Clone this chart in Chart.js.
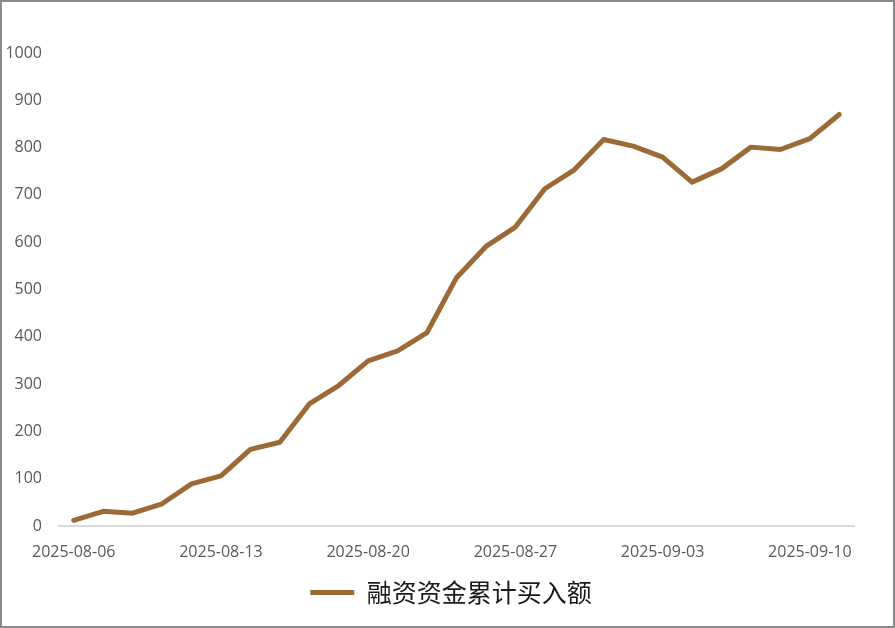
<!DOCTYPE html>
<html>
    <head>
        <meta charset="UTF-8">
        <title>融资资金累计买入额</title>
        <script src="https://cdn.jsdelivr.net/npm/chart.js"></script>
        <style>
            body { margin: 0; background: #fff; }
            .box { width: 895px; height: 628px; box-sizing: border-box; border: 2px solid #8a8a8a; }
            canvas { display: block; }
        </style>
    </head>
    <body>
        <div class="box">
            <canvas id="chart" width="891" height="624"></canvas>
        </div>
        <script>
        // 交易日
        const dates = [
            '2025-08-06', '2025-08-07', '2025-08-08', '2025-08-11', '2025-08-12',
            '2025-08-13', '2025-08-14', '2025-08-15', '2025-08-18', '2025-08-19',
            '2025-08-20', '2025-08-21', '2025-08-22', '2025-08-25', '2025-08-26',
            '2025-08-27', '2025-08-28', '2025-08-29', '2025-09-01', '2025-09-02',
            '2025-09-03', '2025-09-04', '2025-09-05', '2025-09-08', '2025-09-09',
            '2025-09-10', '2025-09-11'
        ];
        // 融资资金累计买入额
        const cumBuy = [
            12, 31, 27, 47, 89, 106, 162, 177, 258, 297,
            349, 370, 409, 525, 591, 632, 713, 753, 817, 803,
            780, 727, 755, 801, 796, 819, 870
        ];
        const seriesName = '融资资金累计买入额';
        const yTicks = [0, 100, 200, 300, 400, 500, 600, 700, 800, 900, 1000];

        const lineColor = '#9c6a36';
        const tickFont = { family: 'Open Sans', size: 16 };

        // 图例整体右移，让它居中在整张图上而不是绘图区
        const legendShift = {
            id: 'legendShift',
            afterLayout(chart) {
                chart.legend.left += 23;
                chart.legend.right += 23;
            }
        };

        new Chart(document.getElementById('chart'), {
            type: 'line',
            data: {
                labels: dates,
                datasets: [{
                    label: seriesName,
                    data: cumBuy,
                    borderColor: lineColor,
                    backgroundColor: lineColor,
                    borderWidth: 5,
                    pointRadius: 0,
                    tension: 0,
                    borderJoinStyle: 'round',
                    borderCapStyle: 'round'
                }]
            },
            plugins: [legendShift],
            options: {
                responsive: false,
                devicePixelRatio: 1,
                animation: false,
                layout: { padding: { top: 51, right: 39, bottom: 11, left: 0 } },
                plugins: {
                    tooltip: { enabled: false },
                    legend: {
                        position: 'bottom',
                        labels: {
                            boxWidth: 44,
                            boxHeight: 5,
                            padding: 10,
                            color: '#1a1a1a',
                            font: { family: 'Noto Sans CJK SC', size: 25 },
                            generateLabels: function(chart) {
                                const items = Chart.defaults.plugins.legend.labels.generateLabels(chart);
                                items.forEach(it => { it.lineWidth = 0; });
                                return items;
                            }
                        }
                    }
                },
                scales: {
                    x: {
                        offset: true,
                        grid: { display: false },
                        border: { display: true, color: '#d9d9d9', width: 2 },
                        ticks: {
                            autoSkip: false,
                            maxRotation: 0,
                            padding: 9,
                            color: '#595959',
                            font: tickFont,
                            callback: function(val, i) {
                                return i % 5 === 0 ? dates[i] : '';
                            }
                        },
                        afterFit: function(scale) { scale.height = 44; }
                    },
                    y: {
                        min: 0,
                        max: 1000,
                        afterBuildTicks: function(scale) {
                            scale.ticks = yTicks.map(v => ({ value: v }));
                        },
                        grid: { display: false },
                        border: { display: false },
                        ticks: {
                            padding: 9,
                            color: '#595959',
                            font: tickFont,
                            callback: function(val) { return String(val); }
                        },
                        afterFit: function(scale) { scale.width = 57; }
                    }
                }
            }
        });
        </script>
    </body>
</html>
